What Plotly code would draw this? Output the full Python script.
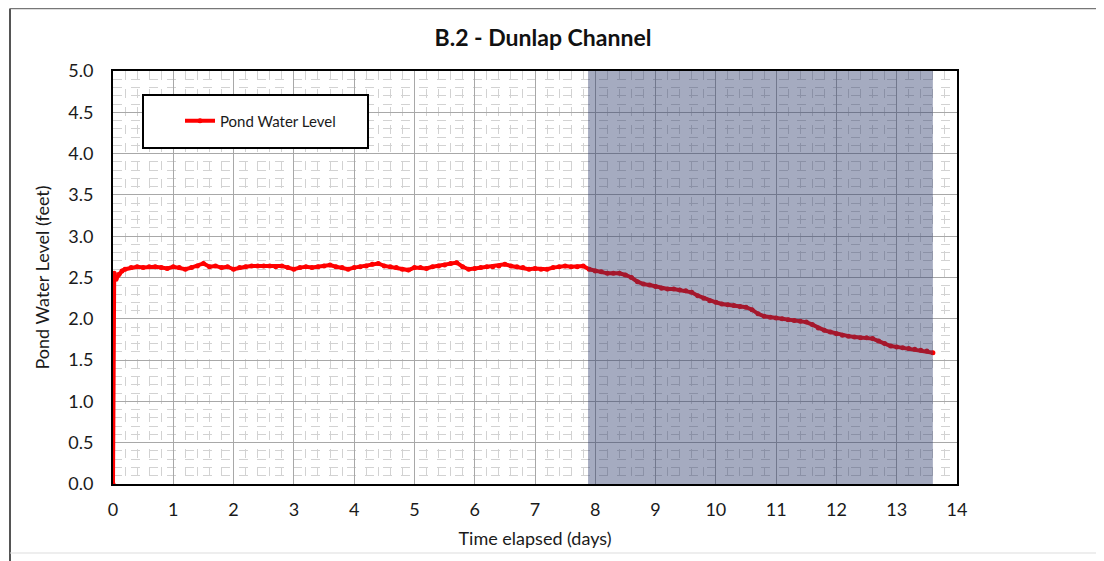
import plotly.graph_objects as go

# ---- data ----
time_days = [0.0, 0.02, 0.05, 0.1, 0.15,
             0.2, 0.3, 0.4, 0.5, 0.6, 0.7, 0.8, 0.9, 1.0, 1.1, 1.2, 1.3, 1.4, 1.5, 1.6, 1.7, 1.8, 1.9,
             2.0, 2.1, 2.2, 2.3, 2.4, 2.5, 2.6, 2.7, 2.8, 2.9, 3.0, 3.1, 3.2, 3.3, 3.4, 3.5, 3.6, 3.7, 3.8, 3.9,
             4.0, 4.1, 4.2, 4.3, 4.4, 4.5, 4.6, 4.7, 4.8, 4.9, 5.0, 5.1, 5.2, 5.3, 5.4, 5.5, 5.6, 5.7, 5.8, 5.9,
             6.0, 6.1, 6.2, 6.3, 6.4, 6.5, 6.6, 6.7, 6.8, 6.9, 7.0, 7.1, 7.2, 7.3, 7.4, 7.5, 7.6, 7.7, 7.8, 7.9,
             8.0, 8.1, 8.2, 8.3, 8.4, 8.5, 8.6, 8.7, 8.8, 8.9, 9.0, 9.1, 9.2, 9.3, 9.4, 9.5, 9.6, 9.7, 9.8, 9.9,
             10.0, 10.1, 10.2, 10.3, 10.4, 10.5, 10.6, 10.7, 10.8, 10.9, 11.0, 11.1, 11.2, 11.3, 11.4, 11.5, 11.6, 11.7, 11.8, 11.9,
             12.0, 12.1, 12.2, 12.3, 12.4, 12.5, 12.6, 12.7, 12.8, 12.9, 13.0, 13.1, 13.2, 13.3, 13.4, 13.5, 13.6]

water_level_ft = [0.0, 2.55, 2.48, 2.54, 2.58,
                  2.60, 2.62, 2.63, 2.62, 2.63, 2.63, 2.62, 2.61, 2.63, 2.62, 2.60, 2.62, 2.64, 2.67, 2.63, 2.64, 2.62, 2.63,
                  2.60, 2.62, 2.63, 2.64, 2.64, 2.64, 2.64, 2.63, 2.64, 2.62, 2.60, 2.62, 2.63, 2.62, 2.63, 2.64, 2.65, 2.63, 2.62, 2.60,
                  2.62, 2.63, 2.64, 2.66, 2.67, 2.64, 2.63, 2.62, 2.60, 2.59, 2.62, 2.62, 2.61, 2.63, 2.64, 2.65, 2.67, 2.68, 2.63, 2.60,
                  2.61, 2.62, 2.63, 2.63, 2.64, 2.66, 2.64, 2.63, 2.62, 2.60, 2.61, 2.60, 2.60, 2.62, 2.63, 2.64, 2.63, 2.63, 2.64, 2.60,
                  2.58, 2.57, 2.55, 2.55, 2.55, 2.53, 2.50, 2.45, 2.42, 2.41, 2.39, 2.37, 2.36, 2.36, 2.35, 2.34, 2.32, 2.28, 2.25, 2.22,
                  2.20, 2.18, 2.17, 2.16, 2.15, 2.14, 2.11, 2.06, 2.03, 2.02, 2.01, 2.00, 1.99, 1.98, 1.97, 1.96, 1.93, 1.89, 1.86, 1.84,
                  1.82, 1.80, 1.79, 1.78, 1.77, 1.77, 1.76, 1.73, 1.70, 1.67, 1.66, 1.65, 1.64, 1.63, 1.62, 1.61, 1.59]

shade_start_day = 7.88
shade_end_day = 13.6
x_ticks = list(range(0, 15))
y_ticks = [0.0, 0.5, 1.0, 1.5, 2.0, 2.5, 3.0, 3.5, 4.0, 4.5, 5.0]

FONT = "Lato"
TXT = "#1a1a1a"

# page is rendered with an 8px body margin; figure sized to fit the window
W, H = 1096, 553
OFF = 8
PL, PR, PT, PB = 113, 957, 71, 484   # plot area in page pixels
PW, PH = PR - PL, PB - PT


def px(xp):
    return (xp - PL) / PW


def py(yp):
    return (PB - yp) / PH


fig = go.Figure()
fig.add_trace(go.Scatter(
    x=time_days, y=water_level_ft, mode="lines+markers", name="Pond Water Level",
    line=dict(color="#ff0000", width=4),
    marker=dict(color="#ff0000", size=5),
))

# shaded period overlay (drawn above the data)
fig.add_shape(type="rect", xref="x", yref="paper", x0=shade_start_day, x1=shade_end_day, y0=0, y1=1,
              fillcolor="rgba(40,55,105,0.42)", line=dict(width=0), layer="above")

# legend box
fig.add_shape(type="rect", xref="paper", yref="paper",
              x0=px(143), x1=px(368), y0=py(148), y1=py(95),
              fillcolor="white", line=dict(color="black", width=2), layer="above")

# outer chart frame
fig.add_shape(type="line", xref="paper", yref="paper", x0=px(10), x1=px(10),
              y0=py(561), y1=py(OFF + 0.5), line=dict(color="#555555", width=2))
fig.add_shape(type="line", xref="paper", yref="paper", x0=px(10), x1=px(1110),
              y0=py(OFF + 0.5), y1=py(OFF + 0.5), line=dict(color="#777777", width=1.5))
fig.add_shape(type="line", xref="paper", yref="paper", x0=px(10), x1=px(1110),
              y0=py(553), y1=py(553), line=dict(color="#dddddd", width=1))

axis_common = dict(
    showline=True, linecolor="black", linewidth=2, mirror=True,
    showgrid=True, gridcolor="#a8a8a8", gridwidth=1,
    zeroline=False, ticks="", tickfont=dict(family=FONT, size=18, color=TXT),
)

fig.update_xaxes(range=[0, 14], tickvals=x_ticks, ticktext=[str(v) for v in x_ticks],
                 minor=dict(dtick=0.2, showgrid=True, gridcolor="#d2d2d2", griddash="dash", gridwidth=1),
                 title=dict(text="Time elapsed (days)", font=dict(family=FONT, size=18, color=TXT), standoff=14),
                 ticklabelstandoff=8, **axis_common)
fig.update_yaxes(range=[0, 5], tickvals=y_ticks, ticktext=[f"{v:.1f}" for v in y_ticks],
                 minor=dict(dtick=0.1, showgrid=True, gridcolor="#d2d2d2", griddash="dash", gridwidth=1),
                 title=dict(text="Pond Water Level (feet)", font=dict(family=FONT, size=18, color=TXT), standoff=14),
                 ticklabelstandoff=14, **axis_common)

fig.update_layout(
    width=W, height=H,
    margin=dict(l=PL - OFF, r=W - (PR - OFF), t=PT - OFF, b=H - (PB - OFF)),
    paper_bgcolor="white", plot_bgcolor="white",
    title=dict(text="<b>B.2 - Dunlap Channel</b>", x=(543 - OFF) / W, xanchor="center",
               y=1 - (38 - OFF) / H, yanchor="middle",
               font=dict(family=FONT, size=23, color="#111111")),
    showlegend=True,
    legend=dict(x=px(180), y=py(121), xanchor="left", yanchor="middle",
                bgcolor="rgba(0,0,0,0)", borderwidth=0,
                font=dict(family=FONT, size=15, color=TXT)),
    font=dict(family=FONT),
)

fig.write_html("out.html")
